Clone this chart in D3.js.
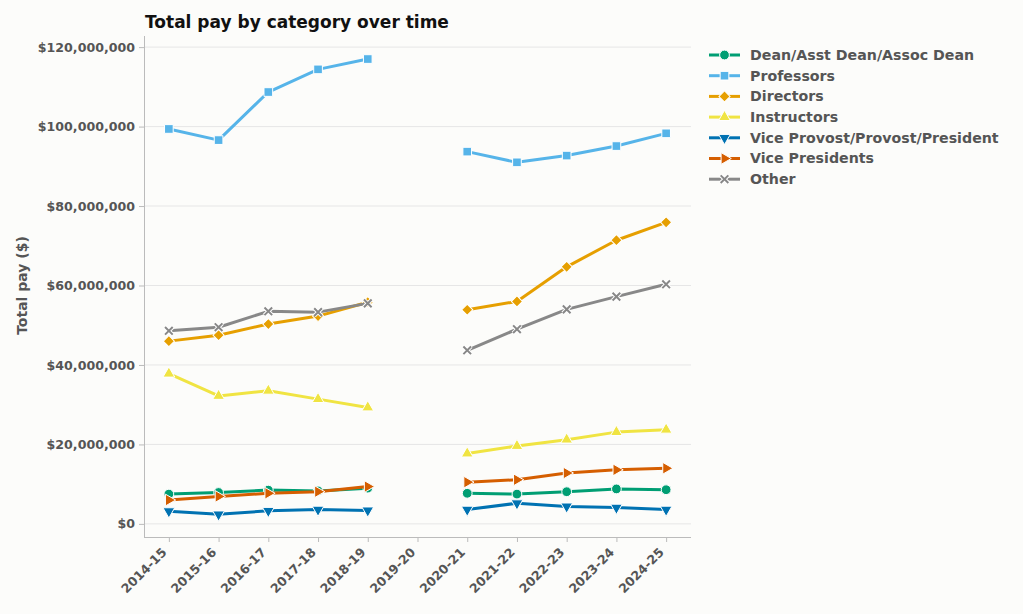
<!DOCTYPE html>
<html>
<head>
<meta charset="utf-8">
<script src="https://cdn.jsdelivr.net/npm/d3@7"></script>
<style>
  body { margin: 0; background: #fcfcfa; }
  svg, svg text { font-family: "DejaVu Sans", sans-serif; }
  .tick text { font-weight: bold; fill: #555; font-size: 12.6px; font-family: "DejaVu Sans", sans-serif; }
  .tick line { stroke: #bbb; }
  .domain { stroke: #bbb; }
</style>
</head>
<body>
<div id="chart"></div>
<script>
// years along the x axis (2019-20 has no data)
var years = ["2014-15", "2015-16", "2016-17", "2017-18", "2018-19", "2019-20",
             "2020-21", "2021-22", "2022-23", "2023-24", "2024-25"];

var categories = ["Dean/Asst Dean/Assoc Dean", "Professors", "Directors", "Instructors",
                  "Vice Provost/Provost/President", "Vice Presidents", "Other"];

// values in millions of dollars
var dean       = [7.5, 7.9, 8.5, 8.3, 9.0, null, 7.7, 7.5, 8.1, 8.8, 8.6];
var professors = [99.4, 96.6, 108.7, 114.4, 117.0, null, 93.7, 91.0, 92.7, 95.1, 98.3];
var directors  = [46.0, 47.5, 50.3, 52.3, 55.8, null, 53.9, 56.0, 64.7, 71.4, 75.9];
var instructors = [37.8, 32.2, 33.5, 31.4, 29.3, null, 17.7, 19.6, 21.2, 23.1, 23.7];
var provost    = [3.2, 2.4, 3.3, 3.6, 3.4, null, 3.6, 5.2, 4.4, 4.1, 3.6];
var vicePres   = [6.0, 6.9, 7.7, 8.1, 9.4, null, 10.5, 11.1, 12.8, 13.6, 14.0];
var other      = [48.6, 49.5, 53.5, 53.3, 55.5, null, 43.7, 49.0, 54.0, 57.2, 60.3];

var seriesValues = [dean, professors, directors, instructors, provost, vicePres, other];
var colors = ["#009E73", "#56B4E9", "#E69F00", "#F0E442", "#0072B2", "#D55E00", "#888888"];
var markers = ["circle", "square", "diamond", "triUp", "triDown", "triRight", "x"];

var width = 1023, height = 614;
var margin = {top: 36, right: 332, bottom: 77, left: 144};
var w = width - margin.left - margin.right,
    h = height - margin.top - margin.bottom;

var svg = d3.select("#chart").append("svg")
    .attr("width", width)
    .attr("height", height);

svg.append("rect").attr("width", width).attr("height", height).attr("fill", "#fcfcfa");

var x = d3.scaleLinear().domain([-0.5, years.length - 0.5]).range([0, w]);
var y = d3.scaleLinear().domain([-3.3, 122.8]).range([h, 0]);

var g = svg.append("g")
    .attr("transform", "translate(" + margin.left + "," + margin.top + ")");

// gridlines
g.append("g")
    .selectAll("line")
    .data(d3.range(0, 121, 20))
    .join("line")
    .attr("x1", 0).attr("x2", w)
    .attr("y1", d => y(d)).attr("y2", d => y(d))
    .attr("stroke", "#e6e6e6").attr("stroke-width", 1);

var yAxis = d3.axisLeft(y)
    .tickValues(d3.range(0, 121, 20))
    .tickSize(5).tickPadding(4)
    .tickFormat(d => "$" + d3.format(",")(d * 1e6));

var xAxis = d3.axisBottom(x)
    .tickValues(d3.range(years.length))
    .tickSize(5).tickPadding(3)
    .tickFormat(i => years[i]);

g.append("g").attr("class", "y axis").call(yAxis)
    .attr("font-family", null).attr("font-size", null)
    .call(a => a.select(".domain").attr("d", "M0.5,0V" + h));

g.append("g").attr("class", "x axis")
    .attr("transform", "translate(0," + h + ")")
    .call(xAxis)
    .attr("font-family", null).attr("font-size", null)
    .call(a => a.select(".domain").attr("d", "M0," + 0.5 + "H" + w))
    .selectAll("text")
    .attr("x", 0).attr("y", 0)
    .attr("text-anchor", "end")
    .attr("dy", "0.35em")
    .attr("transform", "translate(-5,13) rotate(-45)");

// axis title
svg.append("text")
    .attr("transform", "rotate(-90)")
    .attr("x", -(margin.top + y(60)))
    .attr("y", 27)
    .attr("text-anchor", "middle")
    .attr("font-weight", "bold")
    .attr("font-size", "14px")
    .attr("fill", "#555")
    .text("Total pay ($)");

svg.append("text")
    .attr("x", margin.left + 1)
    .attr("y", 28)
    .attr("font-weight", "bold")
    .attr("font-size", "17px")
    .attr("fill", "#111")
    .text("Total pay by category over time");

function drawMarker(sel, type, color) {
    if (type === "x") {
        var p = d3.symbol().type(d3.symbolX).size(40)();
        sel.append("path").attr("d", p).attr("fill", "none")
            .attr("stroke", "#fff").attr("stroke-width", 4);
        sel.append("path").attr("d", p).attr("fill", "none")
            .attr("stroke", color).attr("stroke-width", 2);
        return;
    }
    var t = d3.symbolCircle, size = 75, rot = 0;
    if (type === "square") { t = d3.symbolSquare; size = 75; }
    if (type === "diamond") { t = d3.symbolSquare; size = 62; rot = 45; }
    if (type === "triUp") { t = d3.symbolTriangle; size = 60; }
    if (type === "triDown") { t = d3.symbolTriangle; size = 60; rot = 180; }
    if (type === "triRight") { t = d3.symbolTriangle; size = 60; rot = 90; }
    sel.append("path")
        .attr("d", d3.symbol().type(t).size(size)())
        .attr("transform", "rotate(" + rot + ")")
        .attr("fill", color)
        .attr("stroke", "#fff")
        .attr("stroke-width", 1);
}

var line = d3.line()
    .defined(d => d.v !== null)
    .x(d => x(d.i))
    .y(d => y(d.v));

seriesValues.forEach(function (vals, k) {
    var data = vals.map((v, i) => ({i: i, v: v}));
    var sg = g.append("g").attr("class", "series");
    sg.append("path")
        .datum(data)
        .attr("fill", "none")
        .attr("stroke", colors[k])
        .attr("stroke-width", 3)
        .attr("stroke-linejoin", "round")
        .attr("d", line);
    sg.selectAll("g.pt")
        .data(data.filter(d => d.v !== null))
        .join("g")
        .attr("class", "pt")
        .attr("transform", d => "translate(" + x(d.i) + "," + y(d.v) + ")")
        .each(function () { drawMarker(d3.select(this), markers[k], colors[k]); });
});

// legend
var legend = svg.append("g").attr("transform", "translate(709,55)");
categories.forEach(function (name, k) {
    var row = legend.append("g").attr("transform", "translate(0," + (k * 20.7) + ")");
    row.append("line").attr("x1", 0).attr("x2", 31).attr("y1", 0).attr("y2", 0)
        .attr("stroke", colors[k]).attr("stroke-width", 3);
    drawMarker(row.append("g").attr("transform", "translate(15.5,0)"), markers[k], colors[k]);
    row.append("text")
        .attr("x", 41).attr("y", 0).attr("dy", "0.35em")
        .attr("font-weight", "bold").attr("font-size", "14.2px")
        .attr("fill", "#555")
        .text(name);
});
</script>
</body>
</html>
